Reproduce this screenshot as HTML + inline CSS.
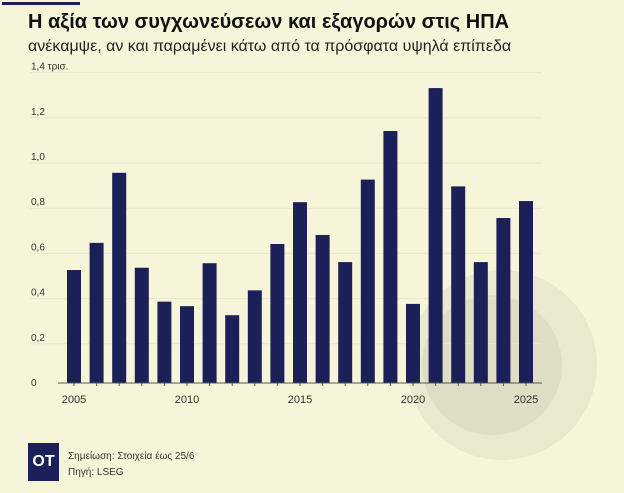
<!DOCTYPE html>
<html><head><meta charset="utf-8"><style>
body{margin:0;width:624px;height:493px;background:#f7f5d9;font-family:"Liberation Sans","DejaVu Sans",sans-serif;overflow:hidden;position:relative}
.t{position:absolute;left:28px;top:11px;font-size:20px;font-weight:bold;color:#111}
.s{position:absolute;left:28px;top:38px;font-size:16px;color:#222}
.logo{position:absolute;left:28px;top:443px;width:31px;height:38px;background:#1b2158;color:#fff;font-weight:bold;font-size:16px;line-height:38px;text-align:center}
.f{position:absolute;left:68px;font-size:10px;color:#333}
</style></head><body>
<div style="position:absolute;left:2px;top:2px;width:78px;height:3px;background:#1b2158"></div>
<div class="t">Η αξία των συγχωνεύσεων και εξαγορών στις ΗΠΑ</div>
<div class="s">ανέκαμψε, αν και παραμένει κάτω από τα πρόσφατα υψηλά επίπεδα</div>
<svg id="c" width="624" height="493" style="position:absolute;left:0;top:0">
<circle cx="502" cy="365" r="95" fill="#eae8cf"/>
<circle cx="492" cy="365" r="70" fill="#dfddc4"/>
</svg>
<div class="logo">OT</div>
<div class="f" style="top:451px">Σημείωση: Στοιχεία έως 25/6</div>
<div class="f" style="top:467px">Πηγή: LSEG</div>
<script>
const years=[2005,2006,2007,2008,2009,2010,2011,2012,2013,2014,2015,2016,2017,2018,2019,2020,2021,2022,2023,2024,2025];
const values=[0.50,0.62,0.93,0.51,0.36,0.34,0.53,0.30,0.41,0.615,0.80,0.655,0.535,0.90,1.115,0.35,1.305,0.87,0.535,0.73,0.805];
const yTicks=[0,0.2,0.4,0.6,0.8,1.0,1.2,1.4];
const yLabels=["0","0,2","0,4","0,6","0,8","1,0","1,2","1,4 τρισ."];
const xLabels=[2005,2010,2015,2020,2025];
const svg=document.getElementById('c'),NS="http://www.w3.org/2000/svg";
const y=v=>383-v*226, x=yr=>74+(yr-2005)*22.6;
function mk(t,a,p){const e=document.createElementNS(NS,t);for(const k in a)e.setAttribute(k,a[k]);(p||svg).appendChild(e);return e;}
yTicks.forEach((v,i)=>{
 const g=mk('line',{x1:30,x2:542,y1:y(v)+6,y2:y(v)+6,stroke:i?'#e8e6cc':'none','stroke-width':1});
 
 
 const t=mk('text',{x:31,y:y(v)+3,'font-size':10,fill:'#333'});t.textContent=yLabels[i];
 
 
});
years.forEach((yr,i)=>{
 const r=mk('rect',{x:x(yr)-7,y:y(values[i]),width:14,height:383-y(values[i]),fill:'#1b2158'});
 
 
 mk('line',{x1:x(yr),x2:x(yr),y1:383,y2:386,stroke:'#555'});
});
const ax=mk('line',{x1:58,x2:542,y1:383,y2:383,stroke:'#555'});


xLabels.forEach(yr=>{
 const t=mk('text',{x:x(yr),y:403,'font-size':11,fill:'#333','text-anchor':'middle'});t.textContent=yr;
 
 
});
</script>
</body></html>
